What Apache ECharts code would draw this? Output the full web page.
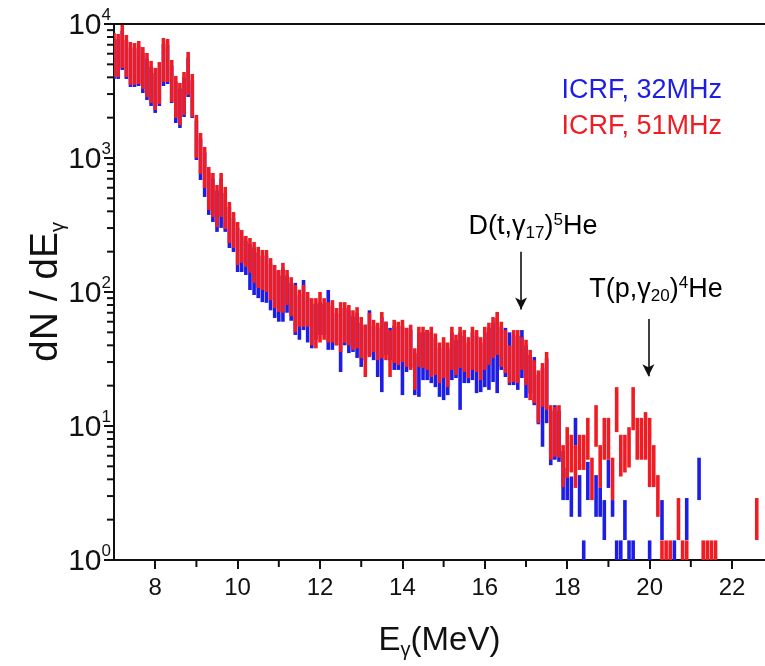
<!DOCTYPE html>
<html>
<head>
<meta charset="utf-8">
<script src="https://cdn.jsdelivr.net/npm/echarts@6.0.0/dist/echarts.min.js"></script>
<style>
  html, body { margin: 0; padding: 0; background: #fff; }
  #chart { width: 765px; height: 666px; }
</style>
</head>
<body>
<div id="chart"></div>
<script>
// bin centres, MeV
var energy = [
  7.0, 7.1, 7.2, 7.3, 7.4, 7.5, 7.6, 7.7, 7.8, 7.9,
  8.0, 8.1, 8.2, 8.3, 8.4, 8.5, 8.6, 8.7, 8.8, 8.9,
  9.0, 9.1, 9.2, 9.3, 9.4, 9.5, 9.6, 9.7, 9.8, 9.9,
  10.0, 10.1, 10.2, 10.3, 10.4, 10.5, 10.6, 10.7, 10.8, 10.9,
  11.0, 11.1, 11.2, 11.3, 11.4, 11.5, 11.6, 11.7, 11.8, 11.9,
  12.0, 12.1, 12.2, 12.3, 12.4, 12.5, 12.6, 12.7, 12.8, 12.9,
  13.0, 13.1, 13.2, 13.3, 13.4, 13.5, 13.6, 13.7, 13.8, 13.9,
  14.0, 14.1, 14.2, 14.3, 14.4, 14.5, 14.6, 14.7, 14.8, 14.9,
  15.0, 15.1, 15.2, 15.3, 15.4, 15.5, 15.6, 15.7, 15.8, 15.9,
  16.0, 16.1, 16.2, 16.3, 16.4, 16.5, 16.6, 16.7, 16.8, 16.9,
  17.0, 17.1, 17.2, 17.3, 17.4, 17.5, 17.6, 17.7, 17.8, 17.9,
  18.0, 18.1, 18.2, 18.3, 18.4, 18.5, 18.6, 18.7, 18.8, 18.9,
  19.0, 19.1, 19.2, 19.3, 19.4, 19.5, 19.6, 19.7, 19.8, 19.9,
  20.0, 20.1, 20.2, 20.3, 20.4, 20.5, 20.6, 20.7, 20.8, 20.9,
  21.0, 21.1, 21.2, 21.3, 21.4, 21.5, 21.6, 21.7, 21.8, 21.9,
  22.0, 22.1, 22.2, 22.3, 22.4, 22.5, 22.6
];

// ICRF 51 MHz, error bar ends
var redHigh = [
  8570, 8420, 9840, 8280, 7340, 7210, 7470, 6730, 6080, 5300,
  4700, 5200, 7870, 7730, 5390, 4090, 3630, 4385, 6180, 4235,
  2095, 1537, 1208, 857, 773, 629, 773, 608, 470, 395,
  333, 290, 262, 253, 236, 217, 206, 206, 179, 159,
  146, 165, 146, 129, 113, 104, 113, 100, 90, 90,
  100, 90, 84, 87, 76, 84, 84, 80, 73, 77,
  65, 57, 70, 62, 59, 71, 60, 52, 62, 60,
  62, 54, 57, 38, 55, 55, 52, 55, 49, 42,
  46, 42, 55, 48, 55, 52, 46, 55, 52, 46,
  55, 59, 65, 71, 60, 52, 40, 52, 52, 46,
  44, 37, 31, 26, 29.5, 35.7, 14.3, 13.9, 14.3, 7.2,
  9.8, 8.6, 7.2, 8.6, 8.6, 11.5, 5.8, 14.3, 7.2, 11.5,
  11.5, 5.8, 19.5, 8.6, 8.6, 9.8, 19.5, 11.5, 11.5, 12.7,
  11.5, 7.2, 4.3, 1.4, 1.4, 1.4, null, 2.9, 1.4, 1.4,
  null, null, null, 1.4, 1.4, 1.4, 1.4, null, null, null,
  null, null, null, null, null, null, 2.9
];
var redLow = [
  4020, 4020, 4700, 4020, 3510, 3510, 3565, 3275, 2850, 2570,
  2280, 2530, 3690, 3690, 2620, 1990, 1763, 2095, 2950, 2023,
  1000, 760, 597, 409, 363, 305, 363, 295, 232, 213,
  159, 165, 154, 139, 117, 107, 103.5, 100, 87, 76,
  71, 70, 80, 66, 50, 55, 55, 55, 40, 38,
  42, 44, 42, 42, 40, 35.7, 41.6, 40, 37, 38,
  32, 23.2, 32.7, 35.7, 31, 32, 31, 23.2, 29.5, 28.5,
  30, 27.6, 26.2, 18.6, 27.6, 27.1, 26.2, 23.2, 24, 20.9,
  22.8, 19.5, 26.2, 24, 27.1, 25.3, 22.8, 26.2, 25.3, 22,
  26.2, 28.5, 32.2, 33.9, 27.6, 24.8, 20.9, 21.3, 20.9, 26.2,
  20.2, 15.6, 14.8, 10.5, 13.9, 13.2, 5.6, 5.9, 5.8, 3.5,
  4.1, 4.5, 3.45, 4.7, 4.7, 5.6, 2.8, 7.0, 3.45, 5.6,
  5.6, 2.8, 9.0, 4.2, 4.5, 4.9, 9.3, 5.6, 5.6, 5.6,
  3.5, 3.5, 2.1, 0.6, 0.6, 0.6, null, 1.41, 0.6, 0.6,
  null, null, null, 0.6, 0.6, 0.6, 0.6, null, null, null,
  null, null, null, null, null, null, 1.41
];

// ICRF 32 MHz, error bar ends
var blueHigh = [
  7800, 7700, 8900, 7600, 6700, 6600, 6800, 6100, 5500, 4800,
  4300, 4700, 7100, 7000, 4900, 3700, 3300, 4000, 5600, 3800,
  1900, 1400, 1100, 780, 700, 570, 700, 550, 430, 360,
  300, 260, 240, 230, 215, 197, 187, 187, 163, 145,
  133, 150, 133, 117, 117, 94, 123, 91, 82, 82,
  84, 82, 103.5, 79, 69, 76, 76, 73, 66, 70,
  59, 57, 73, 56, 54, 65, 60, 54, 56, 55,
  56, 54, 52, 35, 50, 50, 52, 50, 45, 38,
  42, 38, 50, 44, 50, 47, 42, 50, 47, 42,
  50, 54, 59, 64, 55, 54, 50, 47, 47, 52,
  40, 34, 32.7, 24, 27, 32, 13, 14.3, 13, 6.5,
  4.9, 4.2, 11.5, 4.3, 1.4, 5.4, null, 4.3, 3.45, 2.8,
  5.6, 2.8, 1.4, 1.4, 2.8, 1.4, 1.4, null, null, null,
  1.4, null, null, 2.8, null, null, 1.4, null, null, 2.9,
  null, null, 5.8, null, null, null, null, null, null, null,
  null, null, null, null, null, null, null
];
var blueLow = [
  3890, 3890, 4540, 3890, 3390, 3390, 3445, 3055, 2710, 2445,
  2170, 2445, 3445, 3565, 2570, 1825, 1675, 2023, 2850, 1990,
  966, 685, 512, 376, 333, 281, 301, 281, 213, 199,
  141, 141, 134, 103.5, 95, 90, 84, 83, 73, 64,
  60, 60, 70, 61, 47.8, 44, 52, 42, 38, 44,
  47.8, 47.8, 37, 37, 40, 25.3, 40, 35, 35.7, 32.2,
  27.6, 31, 33.9, 31, 23.2, 17.9, 33.9, 31, 26.2, 26.2,
  17, 25.3, 27.1, 17, 16.5, 22, 22, 20.9, 19.5, 16.5,
  15.6, 17, 22, 22.8, 13.2, 20.9, 20.9, 22, 17.6, 17.9,
  19.5, 18.6, 21.3, 17.6, 26.2, 23.2, 20.2, 20.2, 18.6, 22.8,
  16.2, 17.6, 14.3, 10.3, 7.0, 10.5, 5.1, 5.6, 5.4, 2.8,
  2.8, 2.1, 7.2, 2.1, 0.6, 2.8, null, 2.1, 2.1, 1.41,
  3.45, 2.1, 0.6, 0.6, 1.41, 0.6, 0.6, null, null, null,
  0.6, null, null, 1.41, null, null, 0.6, null, null, 1.41,
  null, null, 2.8, null, null, null, null, null, null, null,
  null, null, null, null, null, null, null
];

var xLabelValues = [8, 10, 12, 14, 16, 18, 20, 22];
var xMinorValues = [9, 11, 13, 15, 17, 19, 21];
var yMinor = [2, 3, 4, 5, 6, 7, 8, 9, 20, 30, 40, 50, 60, 70, 80, 90,
  200, 300, 400, 500, 600, 700, 800, 900, 2000, 3000, 4000, 5000, 6000, 7000, 8000, 9000];

// arrows: [energy, from, to]
var arrowD = [16.88, 200, 74];
var arrowT = [19.97, 63, 23.5];

var X_MIN = 7, X_MAX = 22.8, Y_MIN = 1, Y_MAX = 10000;

var FONT = "'Liberation Sans', Arial, sans-serif";
var RED = '#ef1c24';
var BLUE = '#1d1de6';
var INK = '#111';

function toBars(lo, hi) {
  var out = [];
  for (var i = 0; i < energy.length; i++) {
    if (lo[i] == null || hi[i] == null) continue;
    out.push([energy[i], lo[i], hi[i]]);
  }
  return out;
}

function barRenderer(color) {
  return function(params, api) {
    var top = api.coord([api.value(0), api.value(2)]);
    var bottom = api.coord([api.value(0), api.value(1)]);
    var w = 3.6;
    return {
      type: 'rect',
      shape: { x: top[0] - w / 2, y: top[1], width: w, height: bottom[1] - top[1] },
      style: { fill: color }
    };
  };
}

var richBase = {
  n: { fontSize: 27, lineHeight: 30, fontFamily: FONT, color: INK },
  sub: { fontSize: 17, lineHeight: 12, verticalAlign: 'bottom', fontFamily: FONT, color: INK },
  sup: { fontSize: 17, lineHeight: 12, verticalAlign: 'top', fontFamily: FONT, color: INK }
};

var myChart = echarts.init(document.getElementById('chart'));
var option = {
  animation: false,
  backgroundColor: '#fff',
  grid: { left: 114, right: 0, top: 24, bottom: 106, outerBoundsMode: 'none' },
  legend: {
    orient: 'vertical',
    right: 33,
    top: 72,
    align: 'right',
    itemWidth: 0,
    itemHeight: 26,
    itemGap: 9,
    selectedMode: false,
    textStyle: { fontSize: 27, fontFamily: FONT },
    data: [
      { name: 'ICRF, 32MHz', icon: 'none', textStyle: { color: BLUE } },
      { name: 'ICRF, 51MHz', icon: 'none', textStyle: { color: RED } }
    ]
  },
  xAxis: [
    {
      type: 'value', min: X_MIN, max: X_MAX, position: 'bottom',
      splitLine: { show: false },
      axisLine: { onZero: false, lineStyle: { color: INK, width: 2 } },
      axisTick: { customValues: xLabelValues, length: 9, lineStyle: { color: INK, width: 2 } },
      axisLabel: { customValues: xLabelValues, fontSize: 24, color: INK, fontFamily: FONT, margin: 16 },
      name: '{n|E}{sub|γ}{n|(MeV)}',
      nameLocation: 'middle',
      nameGap: 62,
      nameMoveOverlap: false,
      nameTextStyle: {
        rich: {
          n: { fontSize: 33, lineHeight: 38, fontFamily: FONT, color: INK },
          sub: { fontSize: 20, lineHeight: 14, verticalAlign: 'bottom', fontFamily: FONT, color: INK }
        }
      }
    },
    {
      type: 'value', min: X_MIN, max: X_MAX, position: 'top',
      splitLine: { show: false },
      axisLine: { onZero: false, lineStyle: { color: INK, width: 2 } },
      axisTick: { show: false },
      axisLabel: { show: false }
    }
  ],
  yAxis: [
    {
      type: 'log', logBase: 10, min: Y_MIN, max: Y_MAX, position: 'left',
      splitLine: { show: false },
      axisLine: { lineStyle: { color: INK, width: 2 } },
      axisTick: { length: 10, lineStyle: { color: INK, width: 2 } },
      axisLabel: {
        margin: 3,
        formatter: function(v) {
          return '{b|10}{s|' + Math.round(Math.log10(v)) + '}';
        },
        rich: {
          b: { fontSize: 30, lineHeight: 34, verticalAlign: 'bottom', fontFamily: FONT, color: INK },
          s: { fontSize: 17, lineHeight: 14, verticalAlign: 'top', fontFamily: FONT, color: INK }
        }
      },
      name: '{n|dN / dE}{sub|γ}',
      nameLocation: 'middle',
      nameRotate: 90,
      nameGap: 46,
      nameMoveOverlap: false,
      nameTextStyle: {
        rich: {
          n: { fontSize: 39, lineHeight: 44, fontFamily: FONT, color: INK },
          sub: { fontSize: 20, lineHeight: 14, verticalAlign: 'bottom', fontFamily: FONT, color: INK }
        }
      }
    }
  ],
  series: [
    {
      name: 'ICRF, 32MHz',
      type: 'custom',
      clip: true,
      itemStyle: { color: BLUE },
      renderItem: barRenderer(BLUE),
      encode: { x: 0, y: [1, 2] },
      data: toBars(blueLow, blueHigh)
    },
    {
      name: 'ICRF, 51MHz',
      type: 'custom',
      clip: true,
      itemStyle: { color: RED },
      renderItem: barRenderer(RED),
      encode: { x: 0, y: [1, 2] },
      data: toBars(redLow, redHigh)
    },
    {
      name: 'arrows',
      type: 'line',
      data: [],
      silent: true,
      markLine: {
        silent: true,
        symbol: ['none', 'arrow'],
        symbolSize: [9, 12],
        label: { show: false },
        lineStyle: { color: INK, width: 1.6, type: 'solid' },
        data: [
          [{ coord: [arrowD[0], arrowD[1]] }, { coord: [arrowD[0], arrowD[2]] }],
          [{ coord: [arrowT[0], arrowT[1]] }, { coord: [arrowT[0], arrowT[2]] }]
        ]
      }
    }
  ]
};
myChart.setOption(option);

// annotations and the short minor ticks, placed through the red series' axes
var finder = { seriesIndex: 1 };
var graphics = [
  {
    type: 'text', x: 533, y: 227, silent: true,
    style: { text: '{n|D(t,γ}{sub|17}{n|)}{sup|5}{n|He}', align: 'center', verticalAlign: 'middle', rich: richBase }
  },
  {
    type: 'text', x: 656, y: 290, silent: true,
    style: { text: '{n|T(p,γ}{sub|20}{n|)}{sup|4}{n|He}', align: 'center', verticalAlign: 'middle', rich: richBase }
  }
];
yMinor.forEach(function(v) {
  var p = myChart.convertToPixel(finder, [X_MIN, v]);
  graphics.push({
    type: 'rect', silent: true, z: 50,
    shape: { x: p[0] - 7, y: p[1] - 1, width: 6, height: 2 },
    style: { fill: INK }
  });
});
xMinorValues.forEach(function(v) {
  var p = myChart.convertToPixel(finder, [v, Y_MIN]);
  graphics.push({
    type: 'rect', silent: true, z: 50,
    shape: { x: p[0] - 1, y: p[1] + 1, width: 2, height: 6 },
    style: { fill: INK }
  });
});
myChart.setOption({ graphic: { elements: graphics } });
</script>
</body>
</html>
